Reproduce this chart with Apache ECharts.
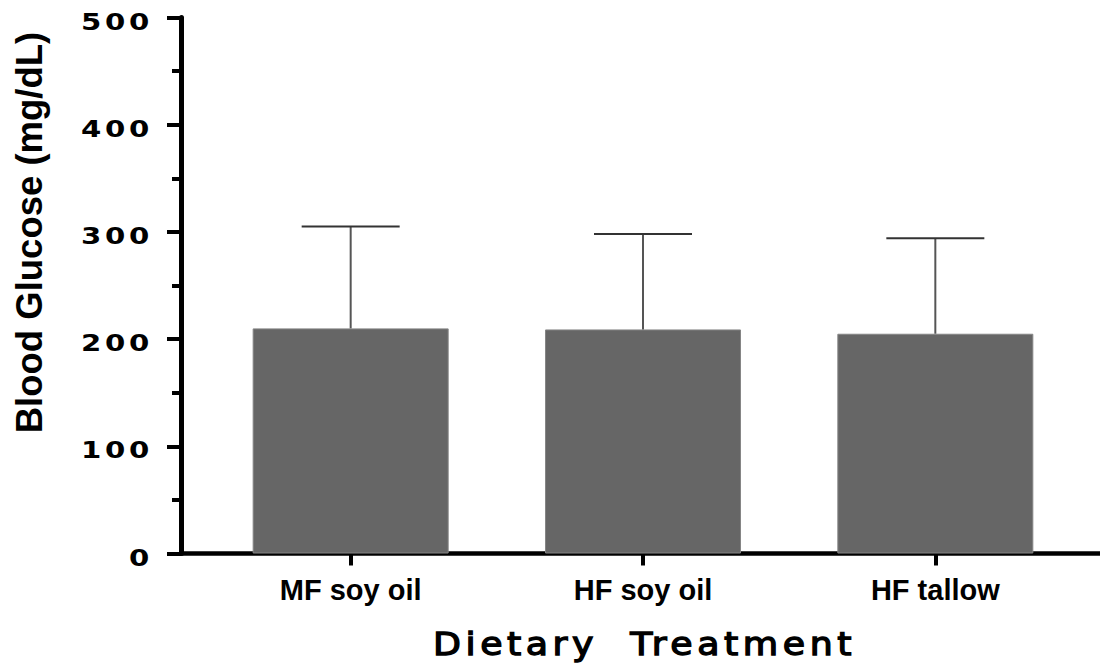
<!DOCTYPE html>
<html>
<head>
<meta charset="utf-8">
<script src="https://cdn.jsdelivr.net/npm/echarts@6/dist/echarts.min.js"></script>
<style>
html,body{margin:0;padding:0;background:#fff;}
#chart{width:1100px;height:668px;}
</style>
</head>
<body>
<div id="chart"></div>
<script>
// Data
const categories = ['MF soy oil', 'HF soy oil', 'HF tallow'];
const meanValues = [210, 209, 205];
const upperValues = [305, 298, 294];
const yTicks = [0, 100, 200, 300, 400, 500];
const yAxisTitle = 'Blood Glucose (mg/dL)';
const xAxisTitle = 'Dietary  Treatment';

const dom = document.getElementById('chart');
const chart = echarts.init(dom, null, {renderer: 'svg'});

const errData = categories.map((c, i) => [i, meanValues[i], upperValues[i]]);

const option = {
  animation: false,
  backgroundColor: '#ffffff',
  grid: [
    {left: 204.5, right: 18.5, top: 17.5, bottom: 114.5},
    {left: 181, right: 0, top: 17.5, bottom: 114.5}
  ],
  xAxis: [
    {
      type: 'category', gridIndex: 0, data: categories,
      axisLine: {show: false},
      axisTick: {show: true, alignWithLabel: true, length: 12, lineStyle: {color: '#000', width: 4}},
      axisLabel: {fontFamily: 'Liberation Sans', fontWeight: 'bold', fontSize: 29, color: '#000', margin: 22},
      splitLine: {show: false}
    },
    {
      type: 'value', gridIndex: 1, min: 0, max: 1,
      axisLine: {show: true, lineStyle: {color: '#000', width: 4.5}},
      axisTick: {show: false}, axisLabel: {show: false}, splitLine: {show: false}
    }
  ],
  yAxis: [
    {type: 'value', gridIndex: 0, min: 0, max: 500, show: false, splitLine: {show: false}},
    {
      type: 'value', gridIndex: 1, min: yTicks[0], max: yTicks[yTicks.length - 1], interval: 100,
      axisLine: {show: true, lineStyle: {color: '#000', width: 5}},
      axisTick: {show: true, length: 14, lineStyle: {color: '#000', width: 4}},
      minorTick: {show: true, splitNumber: 2, length: 9, lineStyle: {color: '#000', width: 4}},
      axisLabel: {fontFamily: 'DejaVu Sans', fontWeight: 'bold', fontSize: 23.5, color: '#000', margin: 28},
      splitLine: {show: false}, minorSplitLine: {show: false}
    }
  ],
  graphic: [
    {
      type: 'text', x: 29.5, y: 232.5, rotation: Math.PI / 2,
      style: {text: yAxisTitle, fontFamily: 'Liberation Sans', fontWeight: 'bold', fontSize: 36.5, fill: '#000', textAlign: 'center', textVerticalAlign: 'middle'}
    },
    {
      type: 'text', x: 644.5, y: 644,
      style: {text: xAxisTitle, fontFamily: 'DejaVu Sans', fontWeight: 'normal', fontSize: 32, fill: '#000', textAlign: 'center', textVerticalAlign: 'middle'}
    }
  ],
  series: [
    {
      type: 'bar', xAxisIndex: 0, yAxisIndex: 0, data: meanValues, barWidth: 196,
      itemStyle: {color: '#666666', borderColor: '#858585', borderWidth: 1}
    },
    {
      type: 'custom', xAxisIndex: 0, yAxisIndex: 0, data: errData, z: 5,
      renderItem: function (params, api) {
        const base = api.coord([api.value(0), api.value(1)]);
        const top = api.coord([api.value(0), api.value(2)]);
        return {
          type: 'group',
          children: [
            {type: 'line', shape: {x1: base[0], y1: base[1], x2: top[0], y2: top[1]}, style: {stroke: '#555', lineWidth: 2}},
            {type: 'line', shape: {x1: top[0] - 49, y1: top[1], x2: top[0] + 49, y2: top[1]}, style: {stroke: '#333', lineWidth: 2}}
          ]
        };
      }
    }
  ]
};

// Typographic tweaks (wide, spaced lettering of the original figure)
function applySpacing() {
  dom.querySelectorAll('text').forEach(function (t) {
    const s = t.textContent;
    if (/^\d+$/.test(s)) {
      t.setAttribute('letter-spacing', '3px');
      t.setAttribute('textLength', String(s.length * 24));
      t.setAttribute('lengthAdjust', 'spacingAndGlyphs');
      t.setAttribute('dy', '4');
    } else if (s.replace(/\s+/g, ' ') === xAxisTitle.replace(/\s+/g, ' ')) {
      t.setAttribute('letter-spacing', '4px');
      t.setAttribute('textLength', '423');
      t.setAttribute('lengthAdjust', 'spacingAndGlyphs');
      t.setAttribute('stroke', '#000');
      t.setAttribute('stroke-width', '1.3');
      t.setAttribute('xml:space', 'preserve');
      t.style.whiteSpace = 'pre';
    }
  });
}
chart.on('finished', applySpacing);
chart.setOption(option);
applySpacing();
setTimeout(applySpacing, 50);
</script>
</body>
</html>
